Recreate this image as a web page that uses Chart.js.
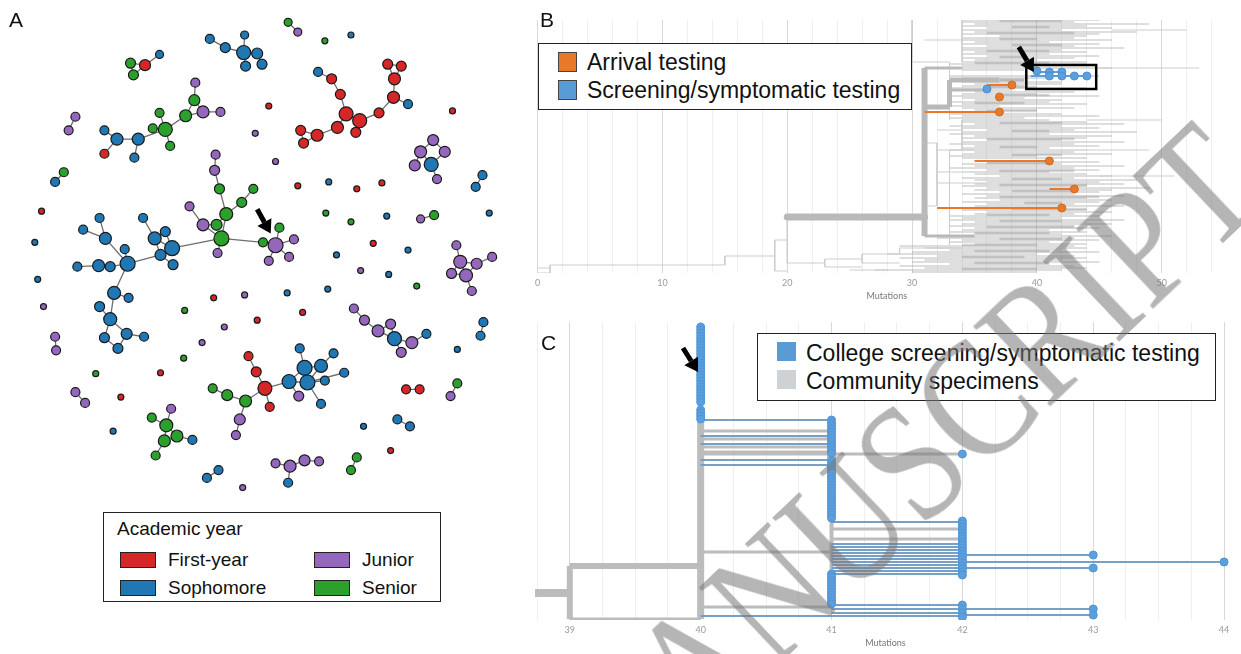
<!DOCTYPE html>
<html><head><meta charset="utf-8">
<script src="https://cdn.jsdelivr.net/npm/chart.js@4.4.1/dist/chart.umd.min.js"></script>
<style>
html,body{margin:0;padding:0;width:1241px;height:654px;overflow:hidden;background:#fff;font-family:'Liberation Sans',Arial,sans-serif;color:#111;}
.abs{position:absolute;}
.letter{position:absolute;font-size:21px;line-height:21px;}
.lgbox{position:absolute;border:1.5px solid #222;background:#fff;box-sizing:border-box;}
.sw{position:absolute;box-sizing:border-box;}
.lt{position:absolute;white-space:nowrap;}
#wm{position:absolute;left:567px;top:702px;height:170px;line-height:170px;font-size:170px;font-family:'Liberation Serif','DejaVu Serif',serif;color:rgba(120,120,120,0.55);transform-origin:0 50%;transform:rotate(-43.5deg) scaleX(0.835);white-space:nowrap;pointer-events:none;}
</style></head>
<body>
<canvas id="cA" class="abs" style="left:0;top:0" width="525" height="654"></canvas>
<canvas id="cB" class="abs" style="left:530px;top:0" width="711" height="305"></canvas>
<canvas id="cC" class="abs" style="left:530px;top:315px" width="711" height="337"></canvas>

<div class="letter" style="left:9px;top:9px">A</div>
<div class="letter" style="left:540px;top:9px">B</div>
<div class="letter" style="left:541px;top:332px">C</div>

<!-- Legend A -->
<div class="lgbox" style="left:103px;top:512px;width:338px;height:90px"></div>
<div class="lt" style="left:117px;top:518px;font-size:19px;line-height:22px">Academic year</div>
<div id="legA"></div>

<!-- Legend B -->
<div class="lgbox" style="left:538px;top:43px;width:374px;height:67px"></div>
<div id="legB"></div>

<!-- Legend C -->
<div class="lgbox" style="left:757px;top:333px;width:459px;height:68px"></div>
<div id="legC"></div>

<div id="wm">MANUSCRIPT</div>

<script>
// ---------------- Panel A : network ----------------
const yearNames = ['First-year','Sophomore','Junior','Senior'];
const yearColors = ['#d62728','#1f77b4','#9467bd','#2ca02c'];
// year codes: 0 First-year, 1 Sophomore, 2 Junior, 3 Senior
const nodeX = [126,141,156,129,208,224,243,244,257,262,245,289,299,327,354,320,334,343,349,363,359,340,319,302,305,383,398,399,392,406,413,459,193,192,201,219,183,156,162,149,167,134,112,99,99,130,69,62,269,255,276,439,426,451,437,420,443,490,483,57,48,34,27,299,331,360,386,328,354,391,426,440,497,377,339,413,214,213,218,253,241,225,187,201,215,220,216,263,276,280,295,290,269,169,162,151,139,157,170,120,123,100,94,77,93,105,71,109,124,94,105,122,140,99,113,30,36,48,49,90,157,69,79,116,108,168,148,163,174,161,190,152,205,217,242,276,291,306,321,289,360,354,395,402,415,367,411,425,464,457,248,256,265,270,245,226,211,239,235,290,306,309,323,301,336,347,327,323,300,357,368,382,395,399,417,432,406,491,488,464,422,463,467,484,500,458,473,479,212,244,288,330,364,393,182,257,304,223,200,181];
const nodeY = [56,58,47,68,31,40,45,27,46,57,59,14,24,33,27,65,72,88,108,115,127,122,130,125,138,107,91,72,57,59,98,105,76,94,106,106,110,107,124,123,141,134,134,125,149,153,111,125,100,128,157,135,147,147,160,161,175,171,183,168,178,208,240,182,178,185,179,210,219,213,216,212,210,241,253,248,150,166,185,185,199,211,203,222,222,236,251,240,243,225,237,255,259,246,229,236,215,253,263,247,262,236,215,227,264,265,265,292,297,306,319,334,337,338,349,278,306,337,351,375,374,394,405,399,434,411,420,428,439,444,443,459,482,474,492,467,470,464,465,487,461,474,454,422,429,429,391,391,385,398,357,373,390,409,403,397,390,422,438,383,369,384,367,349,354,374,382,406,398,308,320,331,324,339,343,334,353,322,336,350,285,243,260,262,255,272,274,290,297,294,292,288,269,273,310,320,312,327,343,359];
const nodeYear = [3,0,1,3,1,1,1,1,1,1,1,3,2,3,1,1,0,0,0,0,0,0,0,0,0,0,0,0,0,0,1,0,2,3,2,2,3,3,3,3,3,1,1,1,0,1,2,2,0,2,2,2,2,2,1,2,2,1,1,3,1,0,1,0,1,0,0,3,3,1,2,3,1,0,1,1,2,2,3,3,3,3,2,2,3,3,2,3,2,3,2,2,2,1,1,1,1,1,1,1,1,1,1,1,1,1,1,1,1,1,1,1,1,1,1,1,2,2,2,3,0,2,2,0,1,2,3,3,3,3,1,3,1,1,2,2,2,2,2,1,3,3,0,1,1,1,0,0,3,2,0,0,0,0,3,3,3,2,2,1,1,1,1,1,1,1,1,1,2,2,2,2,2,1,2,1,2,1,1,1,3,2,2,2,2,2,2,2,0,2,1,1,2,1,3,0,0,2,2,3];
const nodeSize = [5,5.5,4,5,4.5,5,7,4,5.5,5,5,4,4,3,3,4.5,5,5,7,7,5,6,6,5,5,5,6,6,5,5,4.5,3,4.5,5.5,6,4.5,6,4.5,7,4.5,4.5,6,6,4.5,4.5,4.5,4.5,4.5,3,3,3,5.5,6,5.5,7,5.5,4.5,4.5,4.5,4.5,4.5,3,3,3,3,3,3,3,3,3,4,4.5,3,3,3,3,4.5,5,5,4.5,5,6.5,4.5,6,5.5,7.5,4.5,4.5,7.5,4.5,4.5,4.5,4.5,7.5,5,6.5,4.5,5.5,5,4.5,7.5,6,4.5,4.5,6,5,4.5,6.5,4.5,5,6.5,5.5,4.5,5,5,3,3,4.5,4.5,3,3,4.5,4.5,3,3,4.5,4.5,6.5,6,6,4.5,4.5,4.5,4.5,3,4.5,6,5.5,4.5,4.5,4.5,4.5,3,4.5,4.5,3,4.5,4.5,4.5,4.5,4.5,5,7,4.5,6,5.5,4.5,5.5,4.5,7,7.5,7.5,6.5,4.5,4.5,4.5,4.5,4.5,5,4.5,5,6,5,7,6,4.5,5,4.5,4.5,3,3,4.5,6.5,5.5,4.5,5,6.5,4.5,3,3,3,3,3,3,3,3,3,3,3,3];
const edges = [[0,1],[1,2],[0,3],[3,1],[4,5],[5,6],[6,7],[6,8],[8,9],[6,10],[11,12],
[15,16],[16,17],[17,18],[18,19],[19,20],[18,21],[21,22],[22,23],[23,24],[22,24],[19,25],[25,26],[26,27],[27,28],[27,29],[28,29],[26,30],
[32,33],[33,34],[33,36],[34,35],[34,36],[36,38],[37,38],[39,38],[40,38],[38,41],[41,42],[42,43],[42,44],[41,45],[46,47],
[51,52],[51,53],[52,54],[53,54],[52,55],[54,56],[57,58],[59,60],[70,71],
[76,77],[77,78],[78,81],[79,80],[80,81],[81,84],[81,85],[82,83],[83,85],[83,84],[85,86],[85,87],[87,88],[88,89],[88,90],[88,91],[88,92],
[85,93],[93,94],[93,95],[94,95],[95,96],[93,97],[97,98],[95,97],[97,100],[99,100],[100,105],[105,104],[104,106],[100,101],[101,102],[101,103],[100,107],[107,108],[107,110],[109,110],[110,111],[111,112],[110,113],[113,114],[114,111],
[117,118],[121,122],[125,127],[126,127],[127,128],[127,129],[128,130],[129,131],[128,129],[132,133],
[135,136],[136,137],[137,138],[136,139],[140,141],[143,144],[146,147],[148,149],
[150,151],[151,152],[152,153],[152,154],[154,155],[155,156],[154,157],[157,158],[152,159],[159,160],[159,161],[160,161],[160,162],[160,163],[162,164],[161,165],[161,166],[161,167],[159,168],[162,161],
[169,170],[170,171],[171,173],[172,173],[173,174],[174,175],[173,176],[171,172],[177,178],
[181,182],[182,183],[183,184],[182,185],[182,186],[185,186],[186,183],[186,187]];
const arrowA = [[257,206,271,231]];

// ---------------- Panel B : full tree ----------------
// grey cloud of community branches: row position, start, end (mutations)
const bCloudY  = [20,22,24,26,28,30,32,34,36,38,40,42,44,46,48,50,52,54,56,58,60,62,64,66,68,70,76,78,82,84,86,88,90,92,94,96,98,100,102,104,106,108,110,114,116,118,120,122,124,126,128,130,132,134,136,138,140,142,144,146,148,150,152,154,156,158,162,164,166,168,170,172,174,176,178,180,182,184,186,188,190,192,194,196,198,200,202,204,206,210,212,214,216,218,220,222,224,226,228,230,232,234,236,238,240,242,244,246,248,250,252,254,256,258,260,262,264,266,268,270,272];
const bCloudX0 = [34,34,35,34,36,34,35,34,37,34,34,35,34,36,34,34,35,34,36,34,35,34,33,34,33,34,33,34,34,35,34,33,34,35,34,33,34,35,33,34,33,34,35,33,34,33,34,34,35,33,34,36,34,33,35,34,36,34,33,35,34,33,35,34,33,34,36,34,35,33,36,34,35,37,34,35,36,35,34,36,35,37,34,36,35,37,34,36,35,34,36,35,33,34,33,35,34,33,35,34,33,35,34,32,34,33,35,29,31,33,30,28,32,29,31,30,33,29,31,27,30];
const bCloudX1 = [45,43,49,44,46,42,48,45,44,43,46,41,45,43,47,42,44,41,45,43,40,44,44,40,46,39,45,41,42,42,39,44,38,43,40,45,39,42,41,44,37,43,40,42,45,39,41,44,47,42,45,43,48,41,46,44,42,47,43,45,41,44,43,46,40,44,45,42,47,43,45,41,44,46,43,48,45,47,44,49,46,45,43,47,44,46,45,43,47,44,46,43,45,42,47,44,46,43,45,41,44,42,46,43,45,41,44,43,44,42,45,40,43,44,42,45,41,43,44,42,40];
// shorter inner sub-branches that darken the core of the cloud
const bCoreY  = [21,27,33,39,45,51,57,63,87,95,103,111,123,131,139,147,155,163,171,179,185,191,197,203,209,215,221,227,233,239,245,251,257,263,269];
const bCoreX0 = [37,38,36,37,38,36,37,35,36,37,35,36,37,38,36,37,38,36,37,38,37,38,37,39,38,36,37,36,35,37,34,35,34,35,34];
const bCoreX1 = [42,41,43,40,42,41,39,41,40,41,39,40,42,41,43,40,42,41,43,42,44,43,45,42,44,41,42,43,41,42,40,41,39,41,40];
// thin structural branches: horizontal [from, to, row] and vertical [at, rowTop, rowBottom]
const bThinH = [[0,1,268],[0,1,273],[1,15,265],[15,19,256],[19,20,240],[19,20,271],[20,23,263],[23,26,259],[23,26,267],[26,29,254],[26,29,263],[29,34,248],[25,28,270],[31,34,40],[30,33,62],[31,32,143],[31,32,206],[32,35,150],[32,36,183],[32,34,172],[30,34,18],[32,34,130],[45,53,68],[46,52,30],[44,50,120],[45,51,176],[44,49,150]];
const bThinV = [[1,265,273],[15,256,265],[19,240,271],[20,217,263],[23,259,267],[26,254,263],[29,248,254],[34,18,62],[33,62,120],[32,143,206],[34,120,150],[33,150,245],[30,18,62]];
// thick main lineage: [x0, y0, x1, y1, width]
const bThick = [[20,217,31,217,7],[31,68,31,236,6],[31,107,33,107,5],[33,80,33,107,5],[33,80,37,80,5],[37,80,39,80,3],[31,68,34,68,3],[33,90,36,90,3],[31,236,35,236,3]];
const bArrivalX = [38,37,37,41,43,42];
const bArrivalY = [85,97,112,161,189,208];
const bArrivalFrom = [36,null,31,35,41,32];
const bScreenX = [36,40,41,41,42,42,43,44];
const bScreenY = [89,71,72,76,72,76,76,76];
const bScreenLines = [[39.5,44,76],[40,42,72]];
const bBox = [[39.15,65],[44.75,65],[44.75,89],[39.15,89],[39.15,65]];
const arrowB = [[38.55,47,39.75,72]];

// ---------------- Panel C : zoomed cluster ----------------
const cTip40 = [327,330,333,336,339,342,345,348,351,354,357,360,363,366,369,372,375,378,381,384,387,390,393,396,399,402,410,413,416,419];
const cTip41 = [420,423,426,429,432,435,438,441,444,447,450,453,461,464,467,470,473,476,479,482,485,488,491,494,497,500,503,506,509,512,515,518,574,577,580,583,586,589,592,595,598,601,604];
const cTip42 = [454,521,524,527,530,533,536,539,542,545,548,551,554,557,560,563,566,569,572,575,605,609,613,617];
const cTip43 = [555,568,609,615];
const cTip44 = [562];
const cCommunity41 = [457];
// branches: row, from, to, kind (b = college, g = community)
const cBranchY    = [420,436,444,460,465,431,439,447,452,552,607,454,522,544,547,550,553,556,559,562,565,568,571,574,605,609,613,529,539,616,555,568,609,615,562];
const cBranchFrom = [40,40,40,40,40,40,40,40,40,40,40,40,41,41,41,41,41,41,41,41,41,41,41,41,41,41,41,41,41,40,42,42,42,42,42];
const cBranchTo   = [41,41,41,41,41,41,41,41,41,41,41,42,42,42,42,42,42,42,42,42,42,42,42,42,42,42,42,42,42,42,43,43,43,43,44];
const cBranchKind = ['b','b','b','b','b','g','g','g','g','g','g','g','b','b','b','b','b','b','b','b','b','b','b','b','b','b','b','g','g','b','b','b','b','b','b'];
// backbone: [x0, y0, x1, y1, width]
const cStem = [[38.73,593,39,593,8],[39,566,39,619,6],[39,566,40,566,6],[39,619,40,619,3],[40,420,40,619,7],[41,420,41,607,4]];
const arrowC = [[39.865,348,39.98,372]];

// ---------------- helpers ----------------
const GREY = '#bcbcbc', BLUE = '#5b9fdc', BLUELINE = 'rgba(112,155,195,0.95)', ORANGE = '#e8792b';
function segs(list){ // list of [x0,y0,x1,y1]
  const d=[]; list.forEach(s=>{d.push({x:s[0],y:s[1]},{x:s[2],y:s[3]},{x:s[2],y:null});}); return d;
}
function lineDs(list,color,width,order,cap){
  return {type:'line',data:segs(list),borderColor:color,borderWidth:width,pointRadius:0,spanGaps:false,order:order,borderCapStyle:cap||'butt',tension:0};
}
function dotDs(pts,color,r,order,border){
  return {type:'scatter',data:pts,backgroundColor:color,borderColor:border||color,borderWidth:1,pointRadius:r,order:order};
}
const arrowPlugin = {
  id:'arrows',
  afterDatasetsDraw(chart,args,opts){
    const ctx=chart.ctx, xs=chart.scales.x, ys=chart.scales.y;
    (opts.list||[]).forEach(a=>{
      const x0=xs.getPixelForValue(a[0]), y0=ys.getPixelForValue(a[1]);
      const x1=xs.getPixelForValue(a[2]), y1=ys.getPixelForValue(a[3]);
      const ang=Math.atan2(y1-y0,x1-x0), hl=13, hw=8;
      const bx=x1-hl*Math.cos(ang), by=y1-hl*Math.sin(ang);
      ctx.save();
      ctx.strokeStyle='#000'; ctx.fillStyle='#000'; ctx.lineWidth=5; ctx.lineCap='butt';
      ctx.beginPath(); ctx.moveTo(x0,y0); ctx.lineTo(bx,by); ctx.stroke();
      ctx.beginPath(); ctx.moveTo(x1,y1);
      ctx.lineTo(bx+hw*Math.sin(ang), by-hw*Math.cos(ang));
      ctx.lineTo(bx-hw*Math.sin(ang), by+hw*Math.cos(ang));
      ctx.closePath(); ctx.fill();
      ctx.restore();
    });
  }
};
Chart.register(arrowPlugin);
Chart.defaults.animation=false;
Chart.defaults.events=[];
Chart.defaults.plugins.legend.display=false;
Chart.defaults.plugins.tooltip.enabled=false;

// ---------- Chart A ----------
const dsA=[];
dsA.push(lineDs(edges.map(e=>[nodeX[e[0]],nodeY[e[0]],nodeX[e[1]],nodeY[e[1]]]),'#6e6e6e',1.3,10));
yearNames.forEach((nm,g)=>{
  const idx=nodeX.map((_,i)=>i).filter(i=>nodeYear[i]===g);
  dsA.push({type:'scatter',label:nm,data:idx.map(i=>({x:nodeX[i],y:nodeY[i]})),pointRadius:idx.map(i=>nodeSize[i]),
    backgroundColor:yearColors[g],borderColor:'#1a1a1a',borderWidth:1.2,order:1});
});
new Chart(document.getElementById('cA'),{type:'scatter',data:{datasets:dsA},options:{responsive:false,layout:{padding:0},
  scales:{x:{type:'linear',min:0,max:525,display:false},y:{type:'linear',min:0,max:654,reverse:true,display:false}},
  plugins:{arrows:{list:arrowA}}}});

// ---------- Chart B ----------
const dsB=[];
dsB.push(lineDs(bCloudY.map((y,i)=>[bCloudX0[i],y,bCloudX1[i],y]),'rgba(150,150,150,0.42)',1.6,21));
dsB.push(lineDs(bCoreY.map((y,i)=>[bCoreX0[i],y,bCoreX1[i],y]),'rgba(140,140,140,0.35)',2.5,20));
dsB.push(lineDs(bThinH.map(h=>[h[0],h[2],h[1],h[2]]).concat(bThinV.map(v=>[v[0],v[1],v[0],v[2]])),'#cdcdcd',1,19));
bThick.forEach(t=>dsB.push(lineDs([[t[0],t[1],t[2],t[3]]],'#b9b9b9',t[4],18,t[4]>=7?'round':'butt')));
dsB.push(lineDs(bArrivalX.map((x,i)=>bArrivalFrom[i]===null?null:[bArrivalFrom[i],bArrivalY[i],x,bArrivalY[i]]).filter(s=>s),ORANGE,1.8,5));
dsB.push(lineDs(bScreenLines.map(l=>[l[0],l[2],l[1],l[2]]),BLUE,2,5));
dsB.push(dotDs(bArrivalX.map((x,i)=>({x:x,y:bArrivalY[i]})),ORANGE,4,2,'#d06a20'));
dsB.push(dotDs(bScreenX.map((x,i)=>({x:x,y:bScreenY[i]})),BLUE,4,2,'#4a8fd0'));
dsB.push({type:'line',data:bBox.map(p=>({x:p[0],y:p[1]})),borderColor:'#000',borderWidth:2.5,pointRadius:0,order:1});
function xAxis(min,max,step,major,title){
  return {type:'linear',min:min,max:max,border:{display:false},
    ticks:{stepSize:step,autoSkip:false,includeBounds:false,maxRotation:0,padding:5,color:'#9a9a9a',font:{family:'Lato',size:9},
      callback:v=>(Math.abs(v/major-Math.round(v/major))<1e-6)?String(Math.round(v)):''},
    grid:{drawTicks:false,lineWidth:1,color:c=>{const v=c.tick?c.tick.value:0;return (Math.abs(v/major-Math.round(v/major))<1e-6)?'#d9d9d9':'#efefef';}},
    title:{display:true,text:title,color:'#777',font:{family:'Lato',size:9},padding:{top:2,bottom:4}},
    afterFit:s=>{s.height=32;}};
}
new Chart(document.getElementById('cB'),{type:'scatter',data:{datasets:dsB},options:{responsive:false,
  layout:{padding:{left:6,right:0,top:20,bottom:0}},
  scales:{x:xAxis(0,55.95,2,10,'Mutations'),y:{type:'linear',min:20,max:273,reverse:true,display:false}},
  plugins:{arrows:{list:arrowB}}}});

// ---------- Chart C ----------
const dsC=[];
cStem.forEach(t=>dsC.push(lineDs([[t[0],t[1],t[2],t[3]]],GREY,t[4],20)));
dsC.push(lineDs(cBranchY.map((y,i)=>cBranchKind[i]==='g'?[cBranchFrom[i],y,cBranchTo[i],y]:null).filter(s=>s),GREY,3,15));
dsC.push(lineDs(cBranchY.map((y,i)=>cBranchKind[i]==='b'?[cBranchFrom[i],y,cBranchTo[i],y]:null).filter(s=>s),BLUELINE,2,14));
dsC.push(dotDs(cCommunity41.map(y=>({x:41,y:y})),'#c8c8c8',4,3,'#9a9a9a'));
const tipSets=[[40,cTip40],[41,cTip41],[42,cTip42],[43,cTip43],[44,cTip44]];
tipSets.forEach(t=>dsC.push(dotDs(t[1].map(y=>({x:t[0],y:y})),BLUE,4,2,'#4f95d6')));
new Chart(document.getElementById('cC'),{type:'scatter',data:{datasets:dsC},options:{responsive:false,
  layout:{padding:{left:5,right:0,top:7,bottom:0}},
  scales:{x:xAxis(38.734,44.091,0.25,1,'Mutations'),y:{type:'linear',min:322,max:620,reverse:true,display:false}},
  plugins:{arrows:{list:arrowC}}}});

// ---------- HTML legends ----------
function addSw(parent,x,y,w,h,color,border){
  const d=document.createElement('div');d.className='sw';
  d.style.cssText=`left:${x}px;top:${y}px;width:${w}px;height:${h}px;background:${color};border:${border||'none'}`;
  parent.appendChild(d);
}
function addTxt(parent,x,y,txt,size){
  const d=document.createElement('div');d.className='lt';
  d.style.cssText=`left:${x}px;top:${y}px;font-size:${size}px;line-height:${size+2}px`;
  d.textContent=txt; parent.appendChild(d);
}
const legA=document.getElementById('legA');
const legAPos=[[120,552],[120,580],[314,552],[314,580]];
[0,1,2,3].forEach(g=>{
  const p=legAPos[g];
  addSw(legA,p[0],p[1],36,16,yearColors[g],'1.5px solid #222');
  addTxt(legA,p[0]+48,p[1]-3,yearNames[g],19);
});
const legB=document.getElementById('legB');
const legBItems=[['Arrival testing',ORANGE],['Screening/symptomatic testing','#5b9bd5']];
legBItems.forEach((it,i)=>{addSw(legB,558,52+i*28,19,20,it[1],'1px solid #444');addTxt(legB,587,50+i*28,it[0],23);});
const legC=document.getElementById('legC');
const legCItems=[['College screening/symptomatic testing','#5b9bd5'],['Community specimens','#cfd2d4']];
legCItems.forEach((it,i)=>{addSw(legC,777,342+i*28,19,19,it[1]);addTxt(legC,806,341+i*28,it[0],23);});
</script>
</body></html>
